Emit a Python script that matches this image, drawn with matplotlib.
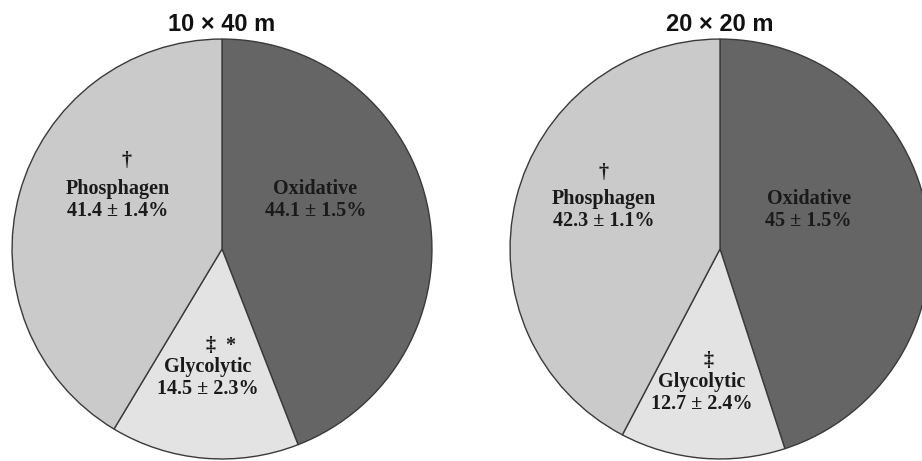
import matplotlib.pyplot as plt

# energy system contributions (%), order: Oxidative, Glycolytic, Phosphagen
labels = ["Oxidative", "Glycolytic", "Phosphagen"]
values_10x40 = [44.1, 14.5, 41.4]
sd_10x40 = ["1.5", "2.3", "1.4"]
values_20x20 = [45, 12.7, 42.3]
sd_20x20 = ["1.5", "2.4", "1.1"]
marks_10x40 = ["", "‡  *", "†"]
marks_20x20 = ["", "‡", "†"]
titles = ["10 × 40 m", "20 × 20 m"]

colors = ["#656565", "#e3e3e3", "#cacaca"]


def fmt(v):
    return f"{v:g}"


def draw_pie(ax, values, sds, marks, title, text_pos, mark_pos):
    ax.pie(values, colors=colors, startangle=90, counterclock=False, radius=1,
           wedgeprops=dict(edgecolor="#3a3a3a", linewidth=1.0))
    ax.set_xlim(-1.005, 1.005)
    ax.set_ylim(-1.005, 1.005)
    ax.set_aspect("equal")
    ax.axis("off")
    style = dict(ha="center", va="center", fontsize=14.5, fontweight="bold",
                 family="Liberation Serif", color="#1a1a1a")
    for i, lab in enumerate(labels):
        txt = f"{lab}\n{fmt(values[i])} ± {sds[i]}%"
        x, y = text_pos[i]
        ax.text(x, y, txt, linespacing=1.12, **style)
        if marks[i]:
            mx, my = mark_pos[i]
            ax.text(mx, my, marks[i], **style)
    ax.text(0, 1.069, title, ha="center", va="center", fontsize=17,
            fontweight="bold", family="Liberation Sans", color="#111111")


fig = plt.figure(figsize=(9.22, 4.61), dpi=100)
W, H = 922, 461
r = 211
ax1 = fig.add_axes([(222 - r) / W, (461 - 249 - r) / H, 2 * r / W, 2 * r / H])
ax2 = fig.add_axes([(720 - r) / W, (461 - 249 - r) / H, 2 * r / W, 2 * r / H])

draw_pie(ax1, values_10x40, sd_10x40, marks_10x40, titles[0],
         [(0.445, 0.232), (-0.069, -0.614), (-0.498, 0.232)],
         [None, (-0.005, -0.464), (-0.455, 0.42)])
draw_pie(ax2, values_20x20, sd_20x20, marks_20x20, titles[1],
         [(0.422, 0.185), (-0.085, -0.687), (-0.555, 0.185)],
         [None, (-0.057, -0.535), (-0.555, 0.36)])

fig.savefig("out.png", dpi=100)
